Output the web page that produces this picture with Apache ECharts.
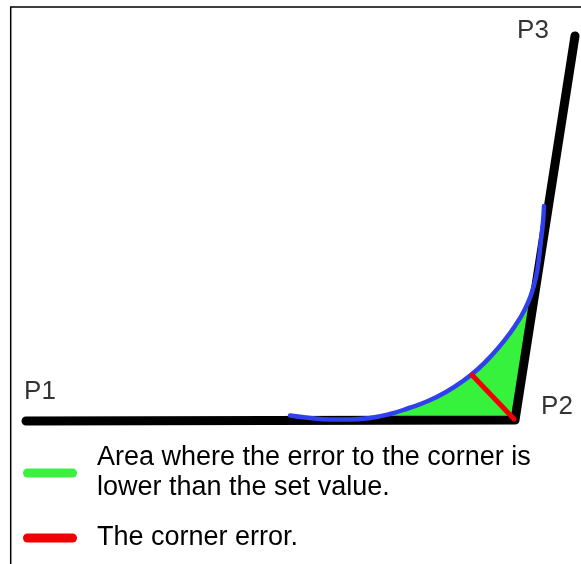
<!DOCTYPE html>
<html>
<head>
<meta charset="utf-8">
<script src="https://cdn.jsdelivr.net/npm/echarts@6/dist/echarts.min.js"></script>
<style>
  html, body { margin: 0; padding: 0; background: #fff; }
  #chart { width: 581px; height: 564px; }
</style>
</head>
<body>
<div id="chart"></div>
<script>
// corner P1 -> P2 -> P3
const pointNames = ["P1", "P2", "P3"];
const cornerPath = [[26, 421], [515, 420], [575, 36]];

// smoothed path around the corner (blue)
const arcPath = [
    [290, 415.5], [310, 418], [330, 419.5], [350, 419.5], [370, 418], [390, 414],
    [409, 408], [428, 401], [446, 392], [463, 381], [478, 369], [492, 355],
    [504, 341], [515, 326], [524, 311], [531, 295], [536, 277], [539, 258],
    [541, 240], [543, 222], [544, 206]
];

// area where the error is below the set value (green)
const toleranceArea = [
    [330, 420], [350, 419.5], [370, 418], [390, 414], [409, 408], [428, 401],
    [446, 392], [463, 381], [478, 369], [492, 355], [504, 341], [515, 326],
    [524, 311], [529, 300], [515, 420]
];

// corner error (red)
const errorSegment = [[514, 419], [472, 375]];

const legendNames = [
    "Area where the error to the corner is\nlower than the set value.",
    "The corner error."
];
const legendColors = ["#3df040", "#f00000"];

const chart = echarts.init(document.getElementById("chart"));
const fonte = "'Liberation Sans', Arial, sans-serif";
const capsula = "path://M4.5,0L49.5,0A4.5,4.5,0,0,1,49.5,9L4.5,9A4.5,4.5,0,0,1,4.5,0Z";

// uma legenda por item, cada uma com a sua posicao
function legenda(i, topo, pad) {
    return {
        orient: "vertical",
        left: 23, top: topo,
        padding: 0,
        itemWidth: 54, itemHeight: 9,
        selectedMode: false,
        textStyle: {
            fontFamily: fonte, fontSize: 27, color: "#000",
            lineHeight: 30, padding: pad
        },
        data: [{name: legendNames[i], icon: capsula, itemStyle: {color: legendColors[i]}}]
    };
}

let option = {
    animation: false,
    grid: {left: 0, top: 0, right: 0, bottom: 0},
    xAxis: {
        type: "value", min: 0, max: 581,
        axisLine: {show: false}, axisTick: {show: false},
        axisLabel: {show: false}, splitLine: {show: false}
    },
    yAxis: {
        type: "value", min: 0, max: 564, inverse: true,
        axisLine: {show: false}, axisTick: {show: false},
        axisLabel: {show: false}, splitLine: {show: false}
    },
    // moldura (so esquerda e topo aparecem)
    graphic: [{
        type: "polyline",
        shape: {points: [[10.7, 564], [10.7, 7], [581, 7]]},
        style: {stroke: "#000", lineWidth: 1.5, fill: null},
        silent: true
    }],
    legend: [
        legenda(0, 440, [6, 0, 0, 15]),
        legenda(1, 521, [0, 0, 4, 15])
    ],
    series: [
        {
            name: legendNames[0],
            type: "custom",
            coordinateSystem: "cartesian2d",
            itemStyle: {color: legendColors[0]},
            data: toleranceArea,
            renderItem: (params, api) => {
                if (params.dataIndex !== 0) return null;
                return {
                    type: "polygon",
                    shape: {points: toleranceArea.map(p => api.coord(p))},
                    style: {fill: "#36f23c"}
                };
            },
            z: 1
        },
        {
            name: "corner",
            type: "line",
            data: cornerPath,
            symbol: "none",
            lineStyle: {color: "#000", width: 9, cap: "round", join: "round"},
            z: 2
        },
        {
            name: "arc",
            type: "line",
            data: arcPath,
            smooth: 0.5,
            symbol: "none",
            lineStyle: {color: "#3040ee", width: 4.5, cap: "round"},
            z: 3
        },
        {
            name: legendNames[1],
            type: "line",
            data: errorSegment,
            symbol: "none",
            color: legendColors[1],
            lineStyle: {color: legendColors[1], width: 5, cap: "round"},
            z: 4
        },
        {
            name: "labels",
            type: "scatter",
            data: cornerPath.map((p, i) => ({name: pointNames[i], value: p})),
            symbolSize: 0,
            label: {
                show: true,
                formatter: p => p.name,
                fontFamily: fonte, fontSize: 26, color: "#000",
                align: "center", verticalAlign: "middle"
            },
            labelLayout: params => {
                let desloc = [[14, -29], [42, -13], [-42, -5]][params.dataIndex];
                return {dx: desloc[0], dy: desloc[1]};
            },
            z: 5
        }
    ]
};

chart.setOption(option);
</script>
</body>
</html>
